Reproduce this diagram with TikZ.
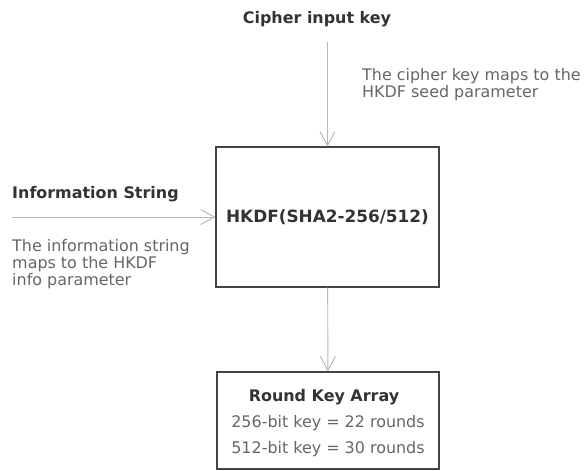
\documentclass[tikz,border=0pt]{standalone}
\usepackage{fontspec}
\setmainfont{DejaVu Sans}
\usetikzlibrary{arrows.meta,positioning}

\definecolor{headgray}{HTML}{333333}
\definecolor{notegray}{HTML}{666666}
\definecolor{linegray}{HTML}{B8B8B8}
\definecolor{boxgray}{HTML}{444444}

\begin{document}
\begin{tikzpicture}[x=0.03cm, y=-0.03cm,
  box/.style={rectangle, draw=boxgray, line width=0.9pt, inner sep=0pt, align=center},
  arrow/.style={-{Straight Barb[length=4.2mm, width=4.5mm]}, draw=linegray, line width=0.8pt},
  heading/.style={font=\fontsize{13.6}{15}\selectfont\bfseries, text=headgray, inner sep=0pt},
  note/.style={font=\fontsize{13.6}{14.5}\selectfont, text=notegray, align=left, inner sep=0pt},
]
\useasboundingbox (0,0) rectangle (587,470);

% === INPUTS ===
\node[heading, anchor=base] (cipher) at (317, 23) {Cipher input key};
\node[note, anchor=base west] (ciphernote) at (362, 97.5) {The cipher key maps to the\\HKDF seed parameter};
\coordinate (ctail) at (327.5, 42);

\node[heading, anchor=base west] (info) at (12, 198) {Information String};
\node[note, anchor=base west] (infonote) at (12, 285) {The information string\\maps to the HKDF\\info parameter};
\coordinate (itail) at (12, 217);

% === DERIVATION ===
\node[box, minimum width=6.69cm, minimum height=4.2cm, font=\fontsize{14.4}{16}\selectfont\bfseries, text=headgray] (hkdf) at (327.5, 217) {HKDF(SHA2-256/512)};

\node[box, minimum width=6.66cm, minimum height=2.91cm] (rka) at (328, 420.5) {};
\node[heading, anchor=base] (rkatitle) at (324, 401.7) {Round Key Array};
\node[note, anchor=base] (rka256) at (328, 427.7) {256-bit key = 22 rounds};
\node[note, anchor=base] (rka512) at (328, 453.3) {512-bit key = 30 rounds};

\draw[arrow] (ctail) -- (hkdf);
\draw[arrow] (itail) -- (hkdf);
\draw[arrow] (hkdf) -- (rka);
\end{tikzpicture}
\end{document}
